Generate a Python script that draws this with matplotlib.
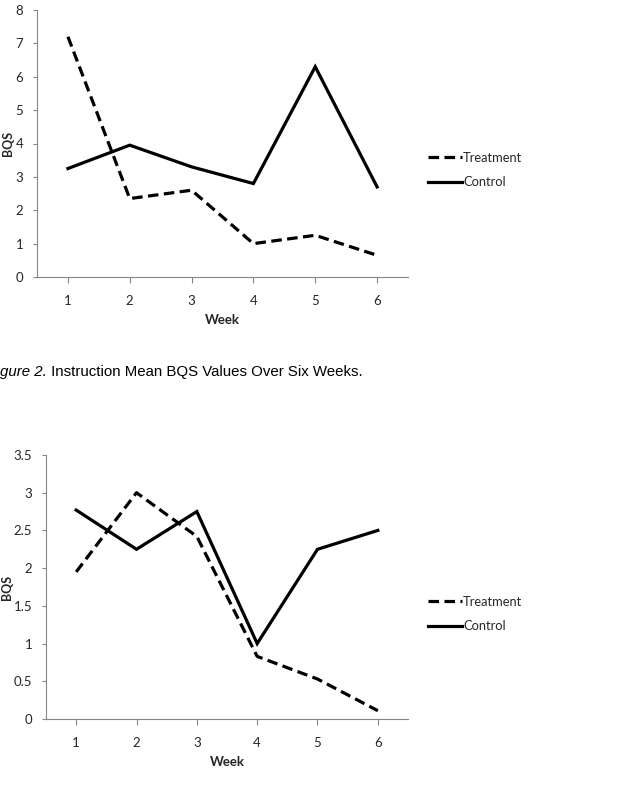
import matplotlib.pyplot as plt
from matplotlib.ticker import FormatStrFormatter

weeks = [1, 2, 3, 4, 5, 6]

# figure 1 (top): BQS values
top_treatment = [7.2, 2.35, 2.6, 1.0, 1.25, 0.65]
top_control = [3.25, 3.95, 3.3, 2.8, 6.3, 2.7]

# figure 2 (bottom): instruction mean BQS values
bot_treatment = [1.95, 3.0, 2.42, 0.83, 0.53, 0.11]
bot_control = [2.77, 2.25, 2.75, 1.0, 2.25, 2.5]

top_yticks = [0, 1, 2, 3, 4, 5, 6, 7, 8]
bot_yticks = [0, 0.5, 1, 1.5, 2, 2.5, 3, 3.5]

W, H = 618, 807
fig = plt.figure(figsize=(W / 100, H / 100), dpi=100)
plt.rcParams['font.family'] = ['Lato', 'DejaVu Sans']

axis_grey = '#868686'
txt = '#262626'


def draw(ax, treat, ctrl, yticks, ylim, leg_y, ylab_x):
    ax.plot(weeks, treat, color='black', lw=2.3, dashes=(3.3, 1.7),
            solid_joinstyle='miter', label='Treatment')
    ax.plot(weeks, ctrl, color='black', lw=2.3, solid_joinstyle='miter',
            label='Control')
    ax.set_xlim(0.5, 6.5)
    ax.set_ylim(*ylim)
    ax.set_xticks(weeks)
    ax.set_yticks(yticks)
    ax.yaxis.set_major_formatter(FormatStrFormatter('%g'))
    for s in ['top', 'right']:
        ax.spines[s].set_visible(False)
    for s in ['left', 'bottom']:
        ax.spines[s].set_color(axis_grey)
        ax.spines[s].set_linewidth(0.8)
    ax.tick_params(axis='y', length=3, width=0.8, color=axis_grey, pad=7,
                   labelsize=9.5, labelcolor=txt)
    ax.tick_params(axis='x', length=4, width=0.8, color=axis_grey, pad=9,
                   labelsize=9.5, labelcolor=txt)
    ax.set_xlabel('Week', fontsize=9.5, fontweight='bold', color=txt)
    ax.xaxis.set_label_coords(0.5, -0.14)
    ax.set_ylabel('BQS', fontsize=9, fontweight='bold', color=txt)
    ax.yaxis.set_label_coords(ylab_x, 0.5)
    ax.legend(loc='center left', bbox_to_anchor=(428 / W, leg_y),
              bbox_transform=fig.transFigure, frameon=False, fontsize=9.3,
              handlelength=2.6, handletextpad=0.1, labelspacing=1.0,
              borderpad=0, borderaxespad=0, labelcolor=txt)


ax1 = fig.add_axes([37 / W, 1 - 277 / H, (408 - 37) / W, (277 - 10) / H])
draw(ax1, top_treatment, top_control, top_yticks, (0, 8), 1 - 170 / H, -0.063)

ax2 = fig.add_axes([46 / W, 1 - 719 / H, (408 - 46) / W, (719 - 455) / H])
draw(ax2, bot_treatment, bot_control, bot_yticks, (0, 3.5), 1 - 614 / H, -0.09)

# caption of the first chart (cut off at the left edge of the page)
cap1 = fig.text(0.0, 1 - 372 / H, 'gure 2.', fontsize=10.8, style='italic',
                family='Liberation Sans', va='center', ha='left')
fig.add_artist(plt.Annotation(' Instruction Mean BQS Values Over Six Weeks.',
                              xy=(1, 0), xycoords=cap1, va='bottom', ha='left',
                              fontsize=10.8, family='Liberation Sans',
                              annotation_clip=False))

fig.savefig('out.png', dpi=100)
